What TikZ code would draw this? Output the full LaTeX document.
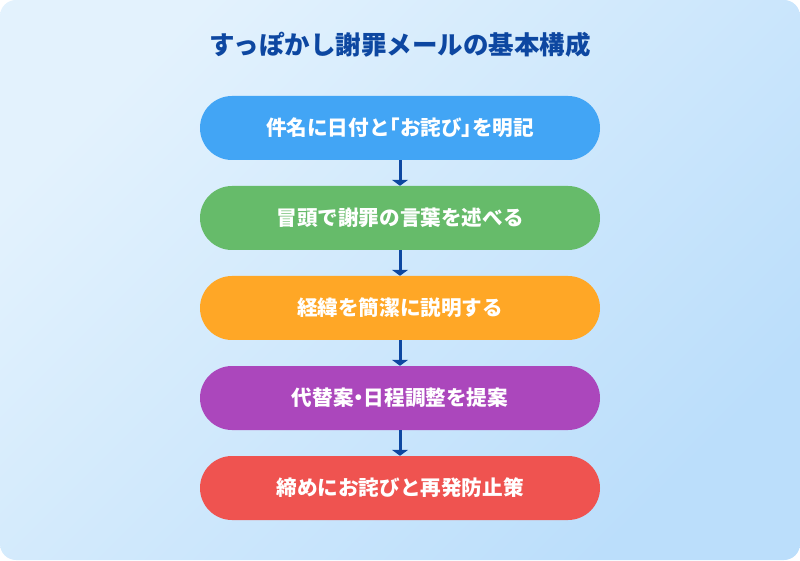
\documentclass[tikz,border=0pt]{standalone}
\usepackage{fontspec}
\setmainfont{Noto Sans CJK JP}
\newfontfamily\jppalt[RawFeature=+palt]{Noto Sans CJK JP}
\usetikzlibrary{positioning,arrows.meta}

\definecolor{bgtop}{HTML}{E3F2FD}
\definecolor{bgbottom}{HTML}{BBDEFB}
\definecolor{titleblue}{HTML}{0D47A1}
\definecolor{arrowblue}{HTML}{0D47A1}
\definecolor{stepblue}{HTML}{42A5F5}
\definecolor{stepgreen}{HTML}{66BB6A}
\definecolor{steporange}{HTML}{FFA726}
\definecolor{steppurple}{HTML}{AB47BC}
\definecolor{stepred}{HTML}{EF5350}

\begin{document}
\begin{tikzpicture}[
    x=1pt,y=1pt,
    stepbox/.style={rectangle,rounded corners=32pt,minimum width=400pt,minimum height=64pt,inner sep=0pt,text=white,font=\fontsize{20.6}{24}\selectfont\bfseries},
    arrow/.style={-{Triangle[width=16pt,length=6pt]},line width=3pt,draw=arrowblue}
]

% Background
\shade[top color=bgtop,bottom color=bgbottom,shading angle=45,rounded corners=16pt] (0,0) rectangle (800,560);
\useasboundingbox (0,0) rectangle (800,560);

% Title
\node[text=titleblue,font=\fontsize{25.5}{30}\selectfont\bfseries] (title) at (400,515) {すっぽかし謝罪メールの基本構成};

% Steps
\foreach \i/\c/\t in {1/stepblue/件名に日付と{\jppalt「}お詫び{\jppalt」}を明記,
                      2/stepgreen/冒頭で謝罪の言葉を述べる,
                      3/steporange/経緯を簡潔に説明する,
                      4/steppurple/代替案{\jppalt・}日程調整を提案,
                      5/stepred/締めにお詫びと再発防止策} {
    \node[stepbox,fill=\c] (step\i) at (400,522-\i*90) {\t};
}

% Connect each step to the next one
\foreach \i in {1,...,4} {
    \pgfmathsetmacro \iNext {int(\i + 1)}
    \draw[arrow] (step\i) -- (step\iNext);
}

\end{tikzpicture}
\end{document}
